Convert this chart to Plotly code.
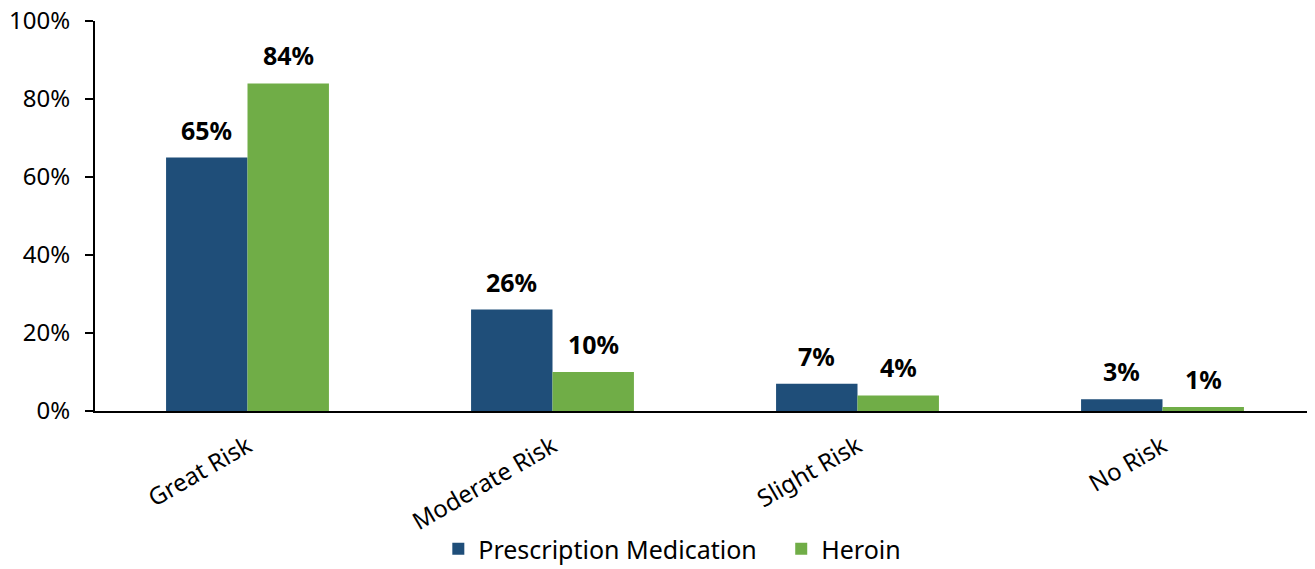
import plotly.graph_objects as go

categories = ["Great Risk", "Moderate Risk", "Slight Risk", "No Risk"]
prescription = [65, 26, 7, 3]
heroin = [84, 10, 4, 1]
series_names = ["Prescription Medication", "Heroin"]
series_colors = ["#1F4E79", "#70AD47"]
tick_vals = [0, 20, 40, 60, 80, 100]
tick_text = ["0%", "20%", "40%", "60%", "80%", "100%"]

FONT = "Noto Sans, Open Sans, sans-serif"

W, H = 1307, 561
ML, MR, MT, MB = 87, 0, 13, 158
BARGAP = 0.466

fig = go.Figure()
for name, vals, col in zip(series_names, [prescription, heroin], series_colors):
    fig.add_trace(go.Bar(name=name + "\u00a0\u00a0\u00a0", x=categories, y=vals,
                         marker=dict(color=col, line=dict(width=0))))

# value labels above bars, shifted to each bar of the group
plot_w = W - ML - MR
bar_px = plot_w / len(categories) * (1 - BARGAP) / 2
for i, vals in enumerate([prescription, heroin]):
    shift = (i - 0.5) * bar_px
    for c, v in zip(categories, vals):
        fig.add_annotation(x=c, y=v, text=f"<b>{v}%</b>", showarrow=False,
                           yanchor="bottom", xanchor="center", xshift=shift, yshift=9,
                           font=dict(size=25, color="black", family=FONT))

fig.update_layout(
    width=W, height=H,
    margin=dict(l=ML, r=MR, t=MT, b=MB, autoexpand=False),
    barmode="group", bargap=BARGAP, bargroupgap=0,
    plot_bgcolor="white", paper_bgcolor="white",
    font=dict(family=FONT, size=24, color="black"),
    legend=dict(orientation="h", x=0.481, xanchor="center", y=-0.354, yanchor="middle",
                font=dict(size=25), itemwidth=30, traceorder="normal"),
    xaxis=dict(showline=True, linecolor="black", linewidth=2, ticks="",
               tickangle=-30, tickfont=dict(size=24), showgrid=False,
               ticklabelstandoff=10, automargin=False),
    yaxis=dict(range=[0, 100], tickvals=tick_vals, ticktext=tick_text,
               showline=True, linecolor="black", linewidth=2, ticks="outside",
               ticklen=8, tickwidth=2, tickcolor="black", showgrid=False,
               tickfont=dict(size=24), zeroline=False, automargin=False,
               ticklabeloverflow="allow", ticklabelstandoff=10),
)

fig.write_html("out.html")
